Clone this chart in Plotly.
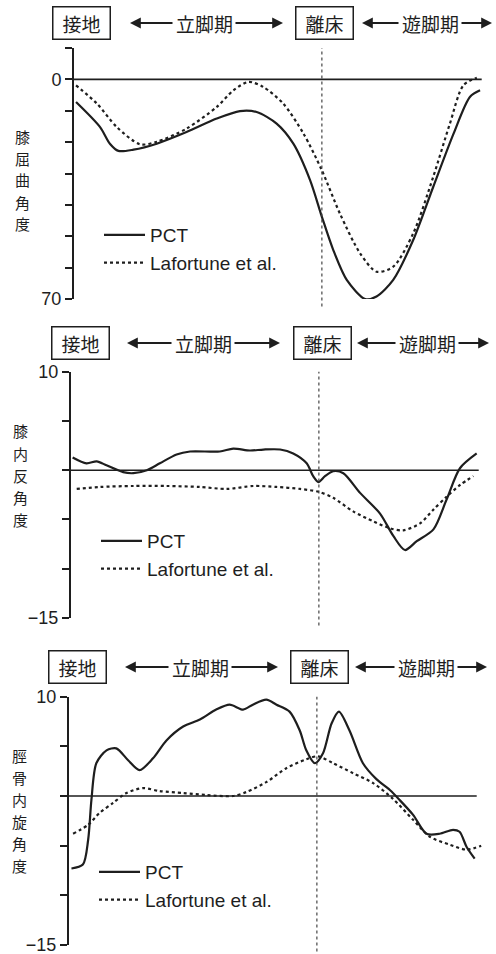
import plotly.graph_objects as go

W, H = 496, 954

# ---------------- data ----------------
# Panel 1: knee flexion angle (deg), x = % of cycle
flex_pct_x = [0.5, 6.4, 8.8, 10.9, 14.6, 20.3, 27.6, 35.0, 40.7, 44.8, 49.7, 53.8, 57.9, 60.8,
              63.6, 66.9, 71.4, 74.2, 78.3, 83.2, 88.1, 93.1, 97.1, 99.6]
flex_pct_y = [7.2, 15.2, 20.5, 22.8, 22.4, 20.5, 16.8, 12.5, 10.1, 10.4, 14.1, 20.5, 32.1, 43.8,
              54.4, 63.9, 70.0, 69.2, 63.9, 51.2, 34.3, 17.3, 5.6, 3.5]
flex_laf_x = [0.5, 5.6, 10.5, 16.2, 20.3, 27.6, 35.0, 39.1, 42.8, 46.4, 51.3, 56.3, 60.8, 65.2,
              70.2, 74.2, 78.3, 83.2, 88.1, 92.2, 95.5, 98.8]
flex_laf_y = [1.9, 7.7, 15.2, 20.7, 19.9, 15.7, 8.8, 3.5, 0.8, 2.4, 7.7, 17.3, 29.0, 42.7,
              55.5, 61.3, 59.7, 49.1, 31.1, 14.1, 1.9, -0.5]

# Panel 2: knee varus angle (deg)
var_pct_x = [0.4, 3.8, 6.3, 8.7, 12.8, 15.3, 18.6, 21.8, 25.9, 29.2, 36.5, 39.8, 43.9, 47.2,
             51.3, 54.5, 57.8, 59.4, 60.7, 62.3, 64.3, 66.8, 70.9, 75.8, 79.1, 81.9, 84.8,
             88.9, 92.1, 95.4, 99.5]
var_pct_y = [1.3, 0.7, 0.9, 0.5, -0.2, -0.3, 0.0, 0.7, 1.6, 1.9, 1.9, 2.2, 2.0, 2.1,
             2.1, 1.7, 0.7, -0.6, -1.2, -0.6, -0.1, -0.3, -2.3, -4.4, -6.7, -8.1, -7.2,
             -6.0, -3.0, 0.2, 1.7]
var_laf_x = [1.4, 7.1, 15.3, 23.5, 31.6, 38.2, 44.7, 50.4, 56.2, 60.8, 64.3, 69.3, 74.2,
             78.3, 81.5, 85.6, 88.9, 92.1, 95.4, 98.7]
var_laf_y = [-1.9, -1.7, -1.6, -1.6, -1.7, -1.9, -1.6, -1.7, -1.9, -2.2, -2.8, -4.2, -5.2,
             -5.9, -6.1, -5.4, -4.0, -2.7, -1.5, -0.6]

# Panel 3: tibial internal rotation angle (deg)
rot_pct_x = [0.6, 3.4, 4.7, 5.5, 6.7, 9.2, 11.6, 14.5, 17.3, 20.6, 23.9, 28.0, 32.1, 36.1,
             39.4, 42.7, 45.1, 48.4, 50.9, 54.1, 56.6, 58.2, 60.3, 62.3, 64.4, 66.2, 68.8,
             72.1, 75.4, 78.7, 81.1, 84.4, 87.7, 90.9, 94.2, 95.8, 97.5, 99.5]
rot_pct_y = [-7.3, -6.9, -4.4, -0.4, 3.3, 4.6, 4.8, 3.6, 2.6, 3.8, 5.6, 7.0, 7.7, 8.7,
             9.2, 8.7, 9.2, 9.7, 9.2, 8.5, 6.6, 4.6, 3.3, 4.3, 7.3, 8.5, 6.6,
             3.3, 1.7, 0.6, -0.4, -1.9, -3.8, -3.8, -3.4, -3.6, -5.1, -6.3]
rot_laf_x = [1.0, 4.7, 7.5, 10.8, 14.1, 18.2, 22.2, 28.0, 33.7, 40.2, 43.5, 48.4, 53.3, 58.2,
             61.1, 64.8, 69.7, 74.6, 79.5, 84.4, 88.5, 93.4, 97.5, 101.1]
rot_laf_y = [-3.8, -2.9, -1.7, -0.7, 0.3, 0.8, 0.5, 0.3, 0.1, 0.0, 0.4, 1.4, 2.8, 3.7,
             4.0, 3.3, 2.3, 1.3, -0.3, -2.4, -4.1, -4.9, -5.4, -5.0]

toe_off = 60.8
zero_end = 100

series_names = ["PCT", "Lafortune et al."]
axis_titles = ["膝屈曲角度", "膝内反角度", "脛骨内旋角度"]
phase_box_labels = ["接地", "離床"]
phase_labels = ["立脚期", "遊脚期"]

y_ranges = [[70, -10], [-15, 10], [-15, 10]]
y_ticks = [[-10, 0, 10, 20, 30, 40, 50, 60, 70], [10, 5, 0, -5, -10, -15], [10, 5, 0, -5, -10, -15]]
y_ticktext = [["", "0", "", "", "", "", "", "", "70"],
              ["10", "", "", "", "", "\u221215"],
              ["10", "", "", "", "", "\u221215"]]

# ---------------- layout geometry (pixels) ----------------
X_RANGE = [0, 102]
PX_PER_UNIT = 4.077
axis_left_px = [74, 71, 69]
y_top_px = [48, 371.7, 696.7]
y_bot_px = [299, 618, 945]
header_y_px = [23, 343, 667]
box1_x_px = [81.5, 80, 77]
box2_x_px = [324, 322, 319]
stance_x_px = [204, 203, 200]
stance_arrows_px = [(130, 283), (127, 280), (125, 278)]
swing_x_px = [430, 427, 426]
swing_arrows_px = [(362, 492), (357, 489), (355, 487)]
title_x_px = [22, 20, 19]
title_center_y_px = [180, 475, 810]
title_step_px = 22
legend_pos_px = [(99, 216), (96, 522), (94, 853)]

def px(x):
    return x / W

def py(y):
    return 1 - y / H

CJK = "Noto Sans CJK JP"
LAT = "Liberation Sans, Arial, sans-serif"
INK = "#1e1e1e"

fig = go.Figure()
data_sets = [
    (flex_pct_x, flex_pct_y, flex_laf_x, flex_laf_y),
    (var_pct_x, var_pct_y, var_laf_x, var_laf_y),
    (rot_pct_x, rot_pct_y, rot_laf_x, rot_laf_y),
]

layout_axes = {}
shapes = []
annotations = []
for i, (px_x, px_y, lf_x, lf_y) in enumerate(data_sets):
    n = i + 1
    xa = "x" if n == 1 else f"x{n}"
    ya = "y" if n == 1 else f"y{n}"
    leg = "legend" if n == 1 else f"legend{n}"
    fig.add_trace(go.Scatter(x=px_x, y=px_y, mode="lines", name=series_names[0],
                             line=dict(color=INK, width=2.2, shape="spline", smoothing=0.8),
                             xaxis=xa, yaxis=ya, legend=leg))
    fig.add_trace(go.Scatter(x=lf_x, y=lf_y, mode="lines", name=series_names[1],
                             line=dict(color=INK, width=2.2, dash="dot", shape="spline", smoothing=0.8),
                             xaxis=xa, yaxis=ya, legend=leg))
    x0 = axis_left_px[i]
    x1 = x0 + (X_RANGE[1] - X_RANGE[0]) * PX_PER_UNIT
    layout_axes["xaxis" if n == 1 else f"xaxis{n}"] = dict(
        domain=[px(x0), px(x1)], range=X_RANGE, visible=False, anchor=ya, automargin=False)
    layout_axes["yaxis" if n == 1 else f"yaxis{n}"] = dict(
        domain=[py(y_bot_px[i]), py(y_top_px[i])], range=y_ranges[i], anchor=xa,
        showline=True, linewidth=2, linecolor=INK, ticks="outside", ticklen=7,
        tickwidth=2, tickcolor=INK, tickvals=y_ticks[i], ticktext=y_ticktext[i],
        showgrid=False, zeroline=False, automargin=False, ticklabeloverflow="allow",
        tickfont=dict(family=LAT, size=18, color=INK))
    # zero reference line
    shapes.append(dict(type="line", xref=xa, yref=ya, x0=X_RANGE[0], x1=zero_end, y0=0, y1=0,
                       line=dict(color=INK, width=1.6)))
    # toe-off dotted line
    shapes.append(dict(type="line", xref=xa, yref=f"{ya} domain", x0=toe_off, x1=toe_off,
                       y0=-0.03 if i < 2 else -0.05, y1=1,
                       line=dict(color="#444", width=1.2, dash="dot")))
    # vertical axis title (one character per line)
    chars = list(axis_titles[i])
    first_y = title_center_y_px[i] - (len(chars) - 1) * title_step_px / 2
    for k, ch in enumerate(chars):
        annotations.append(dict(text=ch, x=px(title_x_px[i]),
                                y=py(first_y + k * title_step_px),
                                xref="paper", yref="paper", showarrow=False,
                                xanchor="center", yanchor="middle", borderpad=0,
                                font=dict(family=CJK, size=15, color=INK)))
    # header boxes
    for bx, lab in zip([box1_x_px[i], box2_x_px[i]], phase_box_labels):
        annotations.append(dict(text=lab, x=px(bx), y=py(header_y_px[i]), xref="paper", yref="paper",
                                showarrow=False, xanchor="center", yanchor="middle",
                                font=dict(family=CJK, size=19, color=INK),
                                bordercolor=INK, borderwidth=1.5, borderpad=4, width=48, height=23))
    # phase labels with arrows
    for cx, lab, (ah_l, ah_r) in zip([stance_x_px[i], swing_x_px[i]], phase_labels,
                                     [stance_arrows_px[i], swing_arrows_px[i]]):
        annotations.append(dict(text=lab, x=px(cx), y=py(header_y_px[i]), xref="paper", yref="paper",
                                showarrow=False, xanchor="center", yanchor="middle",
                                font=dict(family=CJK, size=19, color=INK)))
        half = 29
        annotations.append(dict(text="", x=px(ah_l), y=py(header_y_px[i]), xref="paper", yref="paper",
                                showarrow=True, arrowhead=2, arrowsize=1.2, arrowwidth=1.8,
                                arrowcolor=INK, ax=(cx - half - 1) - ah_l, ay=0, standoff=0))
        annotations.append(dict(text="", x=px(ah_r), y=py(header_y_px[i]), xref="paper", yref="paper",
                                showarrow=True, arrowhead=2, arrowsize=1.2, arrowwidth=1.8,
                                arrowcolor=INK, ax=(cx + half + 1) - ah_r, ay=0, standoff=0))
    lx, ly = legend_pos_px[i]
    layout_axes[leg] = dict(x=px(lx), y=py(ly), xanchor="left", yanchor="top",
                            bgcolor="rgba(0,0,0,0)", font=dict(family=LAT, size=19, color=INK),
                            itemwidth=41, tracegroupgap=0)

fig.update_layout(
    width=W, height=H, margin=dict(l=0, r=0, t=0, b=0, autoexpand=False),
    paper_bgcolor="white", plot_bgcolor="white", showlegend=True,
    shapes=shapes, annotations=annotations, **layout_axes,
)

fig.write_html("out.html", config={"displayModeBar": False},
               post_script="document.body.style.margin='0';document.body.style.padding='0';")
